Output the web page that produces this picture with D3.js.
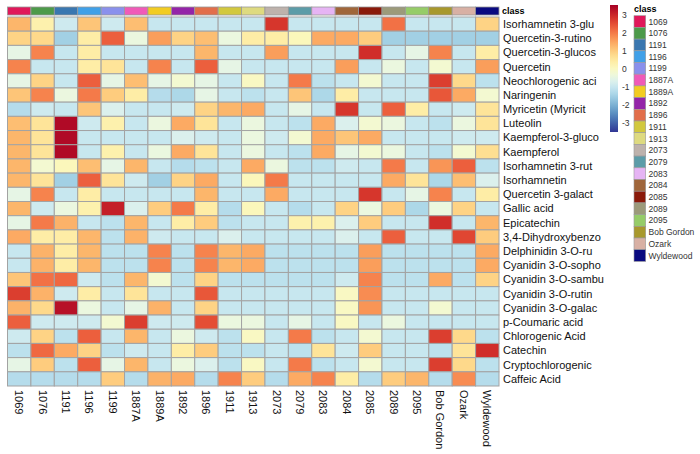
<!DOCTYPE html>
<html>
<head>
<meta charset="utf-8">
<script src="https://cdn.jsdelivr.net/npm/d3@7"></script>
<style>
  body { margin: 0; background: #fff; }
  text { font-family: "Liberation Sans", Arial, sans-serif; }
</style>
</head>
<body>
<div id="chart"></div>
<script>
// Heatmap of phenolic compounds by cultivar (row-scaled)

const cultivars = ['1069', '1076', '1191', '1196', '1199', '1887A', '1889A', '1892', '1896', '1911', '1913',
    '2073', '2079', '2083', '2084', '2085', '2089', '2095', 'Bob Gordon', 'Ozark', 'Wyldewood'];

const classColors = ['#E0185A', '#4D9A4A', '#3A77B0', '#40A0E8', '#8A90EC', '#F05AB8', '#F2CC22', '#9424A8',
    '#E26E4A', '#D2C83E', '#DEDA80', '#BEB2AC', '#5C9CA8', '#E6B4F4', '#A0663A', '#8A1A0A', '#9C9A7A',
    '#96CC68', '#A8982C', '#D8B0A4', '#0A0A80'];

const compounds = ['Isorhamnetin 3-glu', 'Quercetin-3-rutino', 'Quercetin-3-glucos', 'Quercetin',
    'Neochlorogenic aci', 'Naringenin', 'Myricetin (Myricit', 'Luteolin', 'Kaempferol-3-gluco', 'Kaempferol',
    'Isorhamnetin 3-rut', 'Isorhamnetin', 'Quercetin 3-galact', 'Gallic acid', 'Epicatechin',
    '3,4-Dihydroxybenzo', 'Delphinidin 3-O-ru', 'Cyanidin 3-O-sopho', 'Cyanidin 3-O-sambu',
    'Cyanidin 3-O-rutin', 'Cyanidin 3-O-galac', 'p-Coumaric acid', 'Chlorogenic Acid', 'Catechin',
    'Cryptochlorogenic', 'Caffeic Acid'];

// one row per compound, one value per cultivar
const values = [
    [1.3, 0.3, -0.9, 1.1, -0.9, 1.2, -1.0, -1.0, -1.0, -1.0, -1.0, 2.8, -1.0, -1.0, -1.0, -1.0, 2.1, -1.0, -1.0, -1.0, 0.9],
    [0.9, 0.8, -1.5, 0.4, 2.3, -0.4, 1.6, 0.9, 1.2, -0.4, 0.4, 0.4, 0.1, 1.45, 1.45, 1.0, -1.5, -1.5, -1.5, -1.5, -1.5],
    [-0.5, 1.9, -1.0, 0.4, -1.0, -1.0, -1.0, -1.0, 1.3, -1.0, -1.0, 1.6, -1.0, -1.0, -1.0, 2.9, -1.0, -0.5, 1.9, -1.0, 0.4],
    [1.9, -1.0, -1.0, 0.4, 0.6, -1.0, 1.9, -1.0, 2.3, -0.5, -1.0, -1.0, -1.0, -1.0, 1.6, -1.0, -0.4, -1.0, -0.2, -1.0, 1.6],
    [-0.5, 0.9, -1.0, 2.3, -0.5, 1.2, -0.5, -0.2, -0.5, -1.0, 0.0, -1.0, 2.0, -1.15, -1.0, -0.2, -1.0, -1.0, 2.7, 0.8, -1.15],
    [1.1, 1.9, -0.4, 2.0, 1.0, 0.4, -1.25, -1.35, -0.5, -1.0, -1.15, -1.0, 1.1, -1.35, 0.4, -1.0, -1.0, -1.0, 2.4, 1.45, -0.2],
    [-1.25, -0.9, -1.0, 1.1, -0.7, -1.0, -1.0, -0.9, 0.9, 1.3, 1.45, -1.0, -0.5, -1.0, 2.8, -1.0, 2.3, 0.4, -1.0, -0.9, 0.6],
    [1.2, 0.6, 3.4, -0.9, 0.3, -1.0, -0.4, 1.45, 0.6, -1.0, -0.4, -1.0, -1.15, 1.45, -0.7, -0.2, -0.4, -1.0, -1.15, -0.4, 0.6],
    [1.3, 0.6, 3.4, -1.0, -1.0, -1.0, -1.0, -0.7, -0.9, -1.0, -0.4, -0.9, -0.2, 1.45, 1.1, 1.45, -1.0, -1.0, -1.0, -0.9, -0.9],
    [1.3, 0.6, 3.4, -1.0, 0.3, -1.0, -0.4, 1.45, 0.6, -1.0, -0.4, -1.0, -1.15, 1.45, -0.5, -0.2, -0.4, -1.0, -1.15, -0.2, 0.7],
    [1.3, -0.2, 0.1, 1.2, -0.5, 1.3, -1.0, -1.25, -1.15, -1.0, 1.45, -0.4, -1.15, -1.15, -0.9, -1.0, 2.0, -1.0, 1.7, 2.3, -1.15],
    [1.3, 0.6, -1.5, 2.3, 0.6, -0.9, -1.5, 0.9, 1.45, -1.0, 0.1, 2.0, -1.0, -1.0, -1.0, -1.0, 1.45, 0.6, -1.35, 1.2, -0.7],
    [-0.5, 1.9, -1.0, 0.4, -1.0, -1.0, -1.0, -1.0, 1.3, -1.0, -1.0, 1.45, -1.0, -1.0, -1.0, 2.8, -1.0, -0.5, 1.9, -1.0, 0.4],
    [1.3, -0.9, -0.4, 0.3, 3.1, -0.7, 1.0, 2.0, 0.4, -1.25, 0.1, -1.0, -1.25, -1.0, 0.9, -0.4, 1.0, -1.35, -0.4, 0.9, -1.0],
    [-0.5, 2.0, 1.35, -1.0, -1.15, 1.3, -1.0, 0.4, 1.0, -1.15, -1.0, -1.0, 0.3, 0.3, -0.7, 1.0, -1.0, -1.0, 2.9, -1.0, 1.3],
    [1.45, 0.4, 0.4, 1.3, -1.15, 1.35, -0.9, -1.0, -1.0, -0.7, -1.0, -1.0, -1.0, -1.0, -0.7, -1.0, 2.3, -1.0, -1.0, 2.6, 1.0],
    [-1.0, 1.35, 0.4, 1.3, -1.15, -1.15, 1.9, -1.15, 1.9, 1.3, 1.45, -1.15, -1.15, -1.15, -1.15, 1.6, -1.15, -1.15, -1.15, -1.15, 1.45],
    [-1.0, 1.35, 0.4, 1.3, -1.15, -1.15, 1.9, -1.15, 1.9, 1.3, 1.45, -1.15, -1.15, -1.15, -1.15, 1.6, -1.15, -1.15, -1.15, -1.15, 1.45],
    [1.1, 2.1, 2.2, -0.9, -1.15, 1.3, -0.2, -1.15, 0.9, -1.15, -1.15, -1.15, -1.15, -1.15, -0.9, 1.9, -1.15, -1.15, 1.45, -1.15, 0.9],
    [2.7, 1.35, -0.9, 0.4, -1.0, 0.6, -1.0, -1.0, 2.4, -1.0, -1.0, -1.0, -1.0, -1.0, 0.0, 1.8, -1.0, -1.0, -1.0, -1.0, -1.0],
    [1.35, 0.8, 3.3, -0.4, -1.0, -0.5, 1.35, -1.0, 0.9, -1.0, -1.0, -1.0, -1.0, -1.0, 0.0, 1.7, -1.0, -1.0, -0.2, -1.0, -1.0],
    [2.3, -0.9, -0.9, -0.9, -0.2, 2.7, -0.9, -0.9, 2.5, -0.4, -0.4, -1.0, -0.5, -1.0, 0.0, -1.0, -0.4, -1.0, -1.0, -1.0, -1.0],
    [-0.9, 0.9, -1.15, 2.3, -1.0, 1.3, -1.0, -0.4, -0.9, -1.15, 0.0, -1.0, 2.0, -1.15, -1.0, -0.2, -1.0, -1.0, 2.7, 0.8, -1.15],
    [-1.15, 2.2, 1.45, 0.9, -1.15, -0.9, -1.0, 0.4, 1.0, -1.15, -1.15, -1.0, -1.15, 0.6, -0.9, 1.0, -1.0, -1.0, -1.15, 0.6, 2.9],
    [-0.5, 1.0, -1.15, 2.3, -0.5, 1.3, -1.0, -0.4, -0.7, -1.15, 0.0, -1.0, 2.0, -1.15, -1.0, -0.2, -1.0, -1.0, 2.7, 0.8, -1.15],
    [-1.25, -1.25, -1.25, -1.25, 1.0, -1.25, 1.35, 1.45, -1.25, 1.9, 1.0, -1.25, 1.45, 1.9, 0.4, -1.25, 1.0, 1.3, -1.25, 1.8, -1.25]
];

const scaleTicks = [3, 2, 1, 0, -1, -2, -3];

const svg = d3.select('#chart')
    .append('svg')
    .attr('width', 700)
    .attr('height', 454);

// Scales
const x = d3.scaleBand()
    .domain(cultivars)
    .range([7.5, 499]);

const y = d3.scaleBand()
    .domain(compounds)
    .range([17, 386]);

const color = d3.scaleSequential(t => d3.interpolateRdYlBu(1 - t))
    .domain([-3.5, 3.55]);

const classColor = d3.scaleOrdinal()
    .domain(cultivars)
    .range(classColors);

// Class annotation bar
svg.append('g')
    .selectAll('rect')
    .data(cultivars)
    .enter()
    .append('rect')
    .attr('x', d => x(d))
    .attr('y', 7)
    .attr('width', x.bandwidth())
    .attr('height', 8)
    .style('fill', d => classColor(d))
    .style('stroke', '#999')
    .style('stroke-width', 0.8);

svg.append('text')
    .attr('x', 502)
    .attr('y', 14)
    .style('font-size', '9px')
    .style('font-weight', 'bold')
    .text('class');

// Heatmap cells
const cells = [];
values.forEach((row, i) => {
    row.forEach((v, j) => {
        cells.push({ compound: compounds[i], cultivar: cultivars[j], value: v });
    });
});

svg.append('g')
    .selectAll('rect')
    .data(cells)
    .enter()
    .append('rect')
    .attr('x', d => x(d.cultivar))
    .attr('y', d => y(d.compound))
    .attr('width', x.bandwidth())
    .attr('height', y.bandwidth())
    .style('fill', d => color(d.value))
    .style('stroke', '#a3a3a3')
    .style('stroke-width', 1);

// Row labels
svg.append('g')
    .selectAll('text')
    .data(compounds)
    .enter()
    .append('text')
    .attr('x', 503)
    .attr('y', d => y(d) + y.bandwidth() / 2)
    .attr('dy', '.35em')
    .style('font-size', '11px')
    .style('fill', '#111')
    .text(d => d);

// Column labels (rotated)
svg.append('g')
    .selectAll('text')
    .data(cultivars)
    .enter()
    .append('text')
    .attr('transform', d => `translate(${x(d) + x.bandwidth() / 2 - 4},390) rotate(90)`)
    .style('font-size', '11px')
    .style('fill', '#111')
    .text(d => d);

// Colour scale legend
const defs = svg.append('defs');
const grad = defs.append('linearGradient')
    .attr('id', 'scale-grad')
    .attr('x1', 0).attr('x2', 0)
    .attr('y1', 1).attr('y2', 0);

d3.range(0, 1.0001, 0.05).forEach(t => {
    grad.append('stop')
        .attr('offset', t)
        .attr('stop-color', color(-3.5 + t * 7.05));
});

const legendY = d3.scaleLinear()
    .domain([-3.5, 3.55])
    .range([132, 5]);

svg.append('rect')
    .attr('x', 610)
    .attr('y', 5)
    .attr('width', 8)
    .attr('height', 127)
    .style('fill', 'url(#scale-grad)');

svg.append('g')
    .attr('transform', 'translate(618,0)')
    .call(d3.axisRight(legendY)
        .tickValues(scaleTicks)
        .tickFormat(d => String(d))
        .tickSize(0)
        .tickPadding(4))
    .call(g => g.select('.domain').remove())
    .call(g => g.selectAll('text')
        .style('font-size', '8.5px')
        .style('font-family', '"Liberation Sans", Arial, sans-serif')
        .style('fill', '#333'));

// Class legend
svg.append('text')
    .attr('x', 634)
    .attr('y', 12)
    .style('font-size', '9px')
    .style('font-weight', 'bold')
    .text('class');

const legend = svg.selectAll('.legend')
    .data(cultivars)
    .enter()
    .append('g')
    .attr('class', 'legend')
    .attr('transform', (d, i) => `translate(634,${15.7 + i * 11.7})`);

legend.append('rect')
    .attr('width', 11.7)
    .attr('height', 11.7)
    .style('fill', d => classColor(d))
    .style('stroke', '#999')
    .style('stroke-width', 0.6);

legend.append('text')
    .attr('x', 14.5)
    .attr('y', 5.85)
    .attr('dy', '.35em')
    .style('font-size', '8.5px')
    .style('fill', '#333')
    .text(d => d);
</script>
</body>
</html>
